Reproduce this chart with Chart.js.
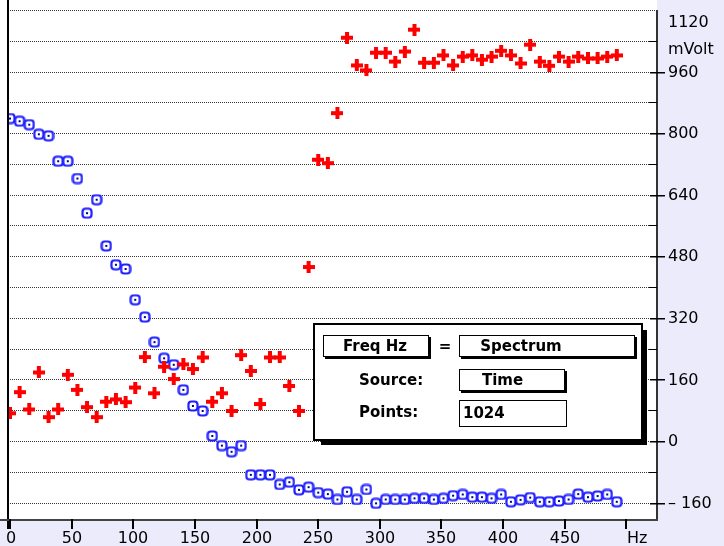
<!DOCTYPE html>
<html>
<head>
<meta charset="utf-8">
<title>Spectrum</title>
<script src="https://cdn.jsdelivr.net/npm/chart.js@4.4.1/dist/chart.umd.min.js"></script>
<style>
  html, body { margin: 0; padding: 0; background: #ebebfb; }
  #chart { display: block; }
</style>
</head>
<body>
<canvas id="chart" width="724" height="546"></canvas>
<script>
// Frequency bins (Hz)
const freqHz = [
  0, 7.8, 15.6, 23.4, 31.3, 39.1, 46.9, 54.7, 62.5, 70.3, 78.1, 85.9, 93.8, 101.6, 109.4, 117.2,
  125, 132.8, 140.6, 148.4, 156.3, 164.1, 171.9, 179.7, 187.5, 195.3, 203.1, 210.9, 218.8, 226.6, 234.4, 242.2,
  250, 257.8, 265.6, 273.4, 281.3, 289.1, 296.9, 304.7, 312.5, 320.3, 328.1, 335.9, 343.8, 351.6, 359.4, 367.2,
  375, 382.8, 390.6, 398.4, 406.3, 414.1, 421.9, 429.7, 437.5, 445.3, 453.1, 460.9, 468.8, 476.6, 484.4, 492.2
];

// Red crosses (mVolt)
const crossMv = [
  72, 127, 82, 178, 62, 82, 172, 133, 88, 62, 102, 108, 101, 139, 218, 124,
  193, 161, 199, 187, 217, 102, 124, 78, 223, 182, 96, 217, 217, 143, 78, 452,
  731, 722, 852, 1048, 976, 963, 1009, 1009, 986, 1012, 1069, 983, 983, 1002,
  976, 999, 1002, 991, 999, 1014, 1002, 981, 1030, 986, 975, 999, 986, 999, 994, 994, 999, 1002
];

// Blue squares (mVolt)
const squareMv = [
  838, 831, 822, 797, 793, 727, 727, 682, 592, 627, 507, 458, 447, 367, 322, 257,
  215, 198, 133, 91, 78, 13, -12, -28, -12, -88, -88, -88, -113, -107, -127, -120,
  -134, -138, -152, -132, -152, -126, -162, -152, -152, -152, -149, -149, -152, -149, -142, -139,
  -146, -146, -149, -139, -158, -153, -147, -158, -158, -156, -152, -138, -146, -143, -139, -158
];

// Axis ticks
const yGridValues = [-160, -80, 0, 80, 160, 240, 320, 400, 480, 560, 640, 720, 800, 880, 960, 1040, 1120];
const yTickValues = [-160, 0, 160, 320, 480, 640, 800, 960, 1120];
const yTickLabels = ['\u2013 160', '0', '160', '320', '480', '640', '800', '960', '1120'];
const xTickValues = [0, 50, 100, 150, 200, 250, 300, 350, 400, 450, 500];
const xTickLabels = ['0', '50', '100', '150', '200', '250', '300', '350', '400', '450', 'Hz'];
const yUnit = 'mVolt';

// Marker images
function makeCross() {
  const c = document.createElement('canvas');
  c.width = 12; c.height = 12;
  const g = c.getContext('2d');
  g.fillStyle = '#ff0000';
  g.fillRect(4, 0, 4, 12);
  g.fillRect(0, 4, 12, 4);
  return c;
}

function makeSquare() {
  const c = document.createElement('canvas');
  c.width = 12; c.height = 12;
  const g = c.getContext('2d');
  g.fillStyle = '#ffffff';
  g.strokeStyle = '#1f1fff';
  g.lineWidth = 2.2;
  g.beginPath();
  g.roundRect(1.5, 1.5, 9, 9, 3);
  g.fill();
  g.stroke();
  g.fillStyle = '#000090';
  g.fillRect(5, 5, 2, 2);
  return c;
}

const FONT = '16px "DejaVu Sans"';
const DLG_FONT = 'bold 15px "DejaVu Sans"';

// background, dotted grid
const gridPlugin = {
  id: 'grid',
  beforeDraw(chart) {
    const ctx = chart.ctx;
    const a = chart.chartArea;
    ctx.save();
    ctx.fillStyle = '#ebebfb';
    ctx.fillRect(0, 0, chart.width, chart.height);
    ctx.fillStyle = '#ffffff';
    ctx.fillRect(0, 0, a.right, a.bottom);
    ctx.restore();
  },
  beforeDatasetsDraw(chart) {
    const ctx = chart.ctx;
    const a = chart.chartArea;
    const ys = chart.scales.y;
    ctx.save();
    ctx.strokeStyle = '#333';
    ctx.lineWidth = 1;
    ctx.setLineDash([1, 1]);
    yGridValues.forEach(v => {
      const y = Math.round(ys.getPixelForValue(v)) + 0.5;
      ctx.beginPath();
      ctx.moveTo(a.left, y);
      ctx.lineTo(a.right, y);
      ctx.stroke();
    });
    ctx.restore();
  }
};

function button(ctx, x0, y0, x1, y1, shadow) {
  ctx.fillStyle = '#fff';
  ctx.fillRect(x0, y0, x1 - x0, y1 - y0);
  ctx.strokeStyle = '#000';
  ctx.lineWidth = 1;
  ctx.strokeRect(x0 + 0.5, y0 + 0.5, x1 - x0 - 1, y1 - y0 - 1);
  if (shadow) {
    ctx.fillStyle = '#000';
    ctx.fillRect(x1, y0 + 2, 2, y1 - y0);
    ctx.fillRect(x0 + 2, y1, x1 - x0, 2);
  }
}

// axes, labels and the settings box
const framePlugin = {
  id: 'frame',
  afterDatasetsDraw(chart) {
    const ctx = chart.ctx;
    const a = chart.chartArea;
    const xs = chart.scales.x;
    const ys = chart.scales.y;
    ctx.save();

    // frame lines
    ctx.fillStyle = '#000';
    ctx.fillRect(a.left - 1, 0, 2, a.bottom + 10);
    ctx.fillStyle = '#333';
    ctx.fillRect(a.right - 1, a.top, 2, a.bottom - a.top + 1);
    ctx.fillStyle = '#444';
    ctx.fillRect(0, a.bottom, a.right + 1, 2);

    // y ticks on the right
    ctx.fillStyle = '#000';
    yGridValues.forEach(v => {
      const y = Math.round(ys.getPixelForValue(v));
      if (v === 1120) return;
      if (yTickValues.includes(v)) ctx.fillRect(a.right - 7, y, 15, 1.5);
      else ctx.fillRect(a.right - 8, y, 8, 1);
    });
    ctx.font = FONT;
    ctx.textAlign = 'left';
    ctx.textBaseline = 'middle';
    yTickValues.forEach((v, i) => {
      const y = Math.max(ys.getPixelForValue(v), a.top + 12);
      ctx.fillText(yTickLabels[i], a.right + 11, y + 1);
    });
    ctx.fillText(yUnit, a.right + 11, 50);

    // x ticks
    ctx.textAlign = 'center';
    xTickValues.forEach((v, i) => {
      const x = Math.round(xs.getPixelForValue(v));
      ctx.fillRect(x - 1, a.bottom, 2, 10);
      if (xTickLabels[i] === 'Hz') {
        ctx.textAlign = 'left';
        ctx.fillText(xTickLabels[i], x + 1, a.bottom + 20);
        ctx.textAlign = 'center';
      } else {
        ctx.fillText(xTickLabels[i], Math.max(x, a.left + 3), a.bottom + 20);
      }
    });

    // settings box
    ctx.fillStyle = '#fff';
    ctx.fillRect(313, 323, 330, 118);
    ctx.strokeStyle = '#000';
    ctx.lineWidth = 2;
    ctx.strokeRect(314, 324, 328, 116);
    ctx.fillStyle = '#000';
    ctx.fillRect(643, 330, 4, 115);
    ctx.fillRect(321, 441, 326, 4);

    button(ctx, 323, 335, 429, 357, true);
    button(ctx, 459, 335, 635, 357, true);
    button(ctx, 459, 369, 565, 391, true);
    button(ctx, 459, 400, 567, 427, false);

    ctx.fillStyle = '#000';
    ctx.font = DLG_FONT;
    ctx.textBaseline = 'middle';
    ctx.textAlign = 'center';
    ctx.fillText('Freq Hz', 375, 347);
    ctx.fillText('=', 445, 347);
    ctx.fillText('Spectrum', 521, 347);
    ctx.textAlign = 'left';
    ctx.fillText('Source:', 359, 381);
    ctx.fillText('Time', 482, 381);
    ctx.fillText('Points:', 359, 413);
    ctx.fillText('1024', 463, 414);

    ctx.restore();
  }
};

const crossImg = makeCross();
const squareImg = makeSquare();

new Chart(document.getElementById('chart'), {
  type: 'scatter',
  data: {
    datasets: [
      {
        label: 'Cross',
        data: freqHz.map((f, i) => ({ x: f, y: crossMv[i] })),
        pointStyle: crossImg,
        pointRadius: 6,
        order: 0
      },
      {
        label: 'Square',
        data: freqHz.map((f, i) => ({ x: f, y: squareMv[i] })),
        pointStyle: squareImg,
        pointRadius: 6,
        order: 1
      }
    ]
  },
  options: {
    responsive: false,
    animation: false,
    devicePixelRatio: 1,
    events: [],
    layout: { padding: { left: 8, top: 10, right: 67, bottom: 27 } },
    plugins: {
      legend: { display: false },
      tooltip: { enabled: false }
    },
    scales: {
      x: { type: 'linear', display: false, min: -1.6, max: 524.8 },
      y: { type: 'linear', display: false, min: -202.7, max: 1120 }
    }
  },
  plugins: [gridPlugin, framePlugin]
});
</script>
</body>
</html>
